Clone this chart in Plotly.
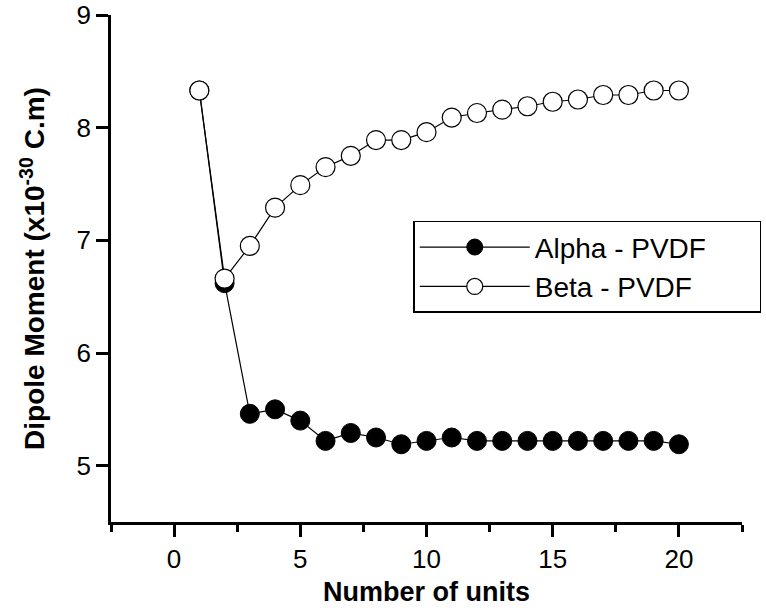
import plotly.graph_objects as go

units = list(range(1, 21))
alpha_pvdf = [8.33, 6.62, 5.46, 5.50, 5.40, 5.22, 5.29, 5.25, 5.19, 5.22,
              5.25, 5.22, 5.22, 5.22, 5.22, 5.22, 5.22, 5.22, 5.22, 5.19]
beta_pvdf = [8.33, 6.66, 6.95, 7.29, 7.49, 7.65, 7.75, 7.89, 7.89, 7.96,
             8.09, 8.13, 8.16, 8.19, 8.23, 8.25, 8.29, 8.29, 8.33, 8.33]
x_ticks = [0, 5, 10, 15, 20]
y_ticks = [5, 6, 7, 8, 9]

FONT = "Liberation Sans, Arial, sans-serif"

fig = go.Figure()
fig.add_trace(go.Scatter(
    x=units, y=alpha_pvdf, mode="lines+markers", name="Alpha - PVDF",
    line=dict(color="black", width=1.2),
    marker=dict(symbol="circle", size=19, color="black",
                line=dict(color="black", width=1)),
))
fig.add_trace(go.Scatter(
    x=units, y=beta_pvdf, mode="lines+markers", name="Beta - PVDF",
    line=dict(color="black", width=1.2),
    marker=dict(symbol="circle", size=19, color="white",
                line=dict(color="black", width=1.2)),
))

axis_common = dict(
    showline=True, linecolor="black", linewidth=2.5,
    ticks="outside", ticklen=12, tickwidth=2.5, tickcolor="black",
    showgrid=False, zeroline=False, mirror=False, automargin=False,
    ticklabeloverflow="allow",
    tickfont=dict(family=FONT, size=26, color="black"),
)

fig.update_xaxes(
    range=[-2.5, 22.5], tickvals=x_ticks, **axis_common,
    minor=dict(tick0=-2.5, dtick=2.5, ticklen=7, tickwidth=2.5,
               tickcolor="black", ticks="outside", showgrid=False),
    title=dict(text="<b>Number of units</b>",
               font=dict(family=FONT, size=27, color="black"), standoff=10),
)
fig.update_yaxes(
    range=[4.5, 9], tickvals=y_ticks, **axis_common,
    title=dict(text="<b>Dipole Moment (x10<sup>-30</sup> C.m)</b>",
               font=dict(family=FONT, size=28, color="black"), standoff=24),
)

fig.update_layout(
    width=766, height=612,
    margin=dict(l=111, r=24, t=15, b=90, autoexpand=False),
    paper_bgcolor="white", plot_bgcolor="white",
    showlegend=True,
    legend=dict(
        x=0.479, y=0.594, xanchor="left", yanchor="top",
        orientation="h", entrywidth=220, entrywidthmode="pixels",
        bordercolor="black", borderwidth=1.5, bgcolor="white",
        font=dict(family=FONT, size=28, color="black"),
        itemwidth=110, tracegroupgap=0,
    ),
)

fig.write_html(
    "out.html",
    config={"displayModeBar": False},
    post_script="document.body.style.margin='0';document.body.style.overflow='hidden';",
)
